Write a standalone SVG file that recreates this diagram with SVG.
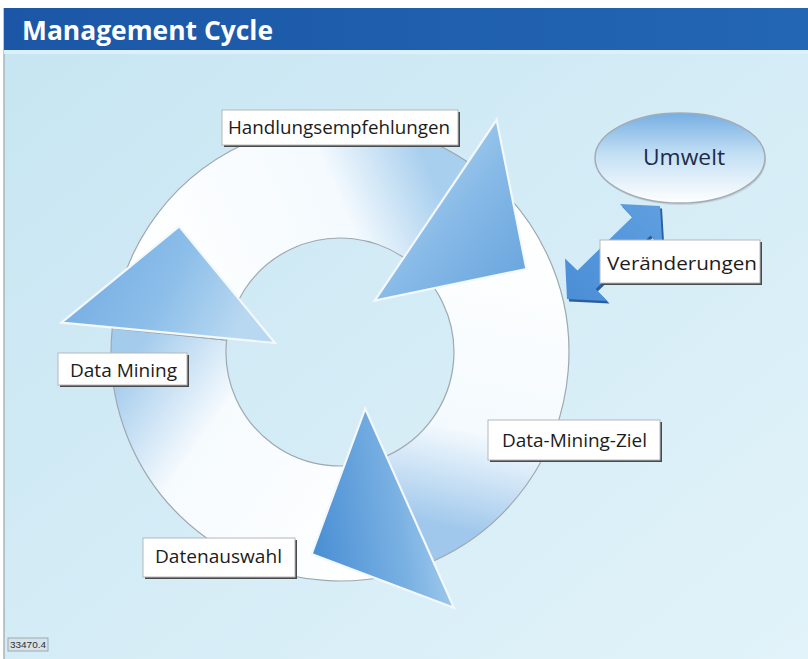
<svg xmlns="http://www.w3.org/2000/svg" width="808" height="659" viewBox="0 0 808 659">
<defs>
  <linearGradient id="bg" x1="0" y1="0" x2="1" y2="1">
    <stop offset="0" stop-color="#c6e5f2"/>
    <stop offset="1" stop-color="#e2f3fa"/>
  </linearGradient>
  <linearGradient id="hdr" x1="0" y1="0" x2="1" y2="0">
    <stop offset="0" stop-color="#1b57a6"/>
    <stop offset="1" stop-color="#2366b4"/>
  </linearGradient>
  <linearGradient id="bandL" gradientUnits="userSpaceOnUse" x1="420" y1="520" x2="150" y2="330">
    <stop offset="0" stop-color="#ffffff"/>
    <stop offset="0.68" stop-color="#f6fbfe"/>
    <stop offset="1" stop-color="#a3cbec"/>
  </linearGradient>
  <linearGradient id="bandT" gradientUnits="userSpaceOnUse" x1="160" y1="330" x2="445" y2="205">
    <stop offset="0" stop-color="#ffffff"/>
    <stop offset="0.7" stop-color="#f4fafe"/>
    <stop offset="1" stop-color="#a8cfee"/>
  </linearGradient>
  <linearGradient id="bandR" gradientUnits="userSpaceOnUse" x1="480" y1="220" x2="415" y2="520">
    <stop offset="0" stop-color="#ffffff"/>
    <stop offset="0.68" stop-color="#f4fafe"/>
    <stop offset="1" stop-color="#a0c8ec"/>
  </linearGradient>
  <linearGradient id="headTR" x1="0" y1="0" x2="1" y2="1">
    <stop offset="0" stop-color="#c0def4"/>
    <stop offset="0.55" stop-color="#86b9e7"/>
    <stop offset="1" stop-color="#64a2dc"/>
  </linearGradient>
  <linearGradient id="headB" x1="0" y1="0.6" x2="1" y2="0.4">
    <stop offset="0" stop-color="#4a8fd4"/>
    <stop offset="0.6" stop-color="#7ab1e3"/>
    <stop offset="1" stop-color="#aad0ef"/>
  </linearGradient>
  <linearGradient id="headL" x1="0" y1="0" x2="1" y2="0.3">
    <stop offset="0" stop-color="#6ea8e0"/>
    <stop offset="0.6" stop-color="#8cbee9"/>
    <stop offset="1" stop-color="#b8d8f1"/>
  </linearGradient>
  <linearGradient id="ell" x1="0" y1="0" x2="0" y2="1">
    <stop offset="0" stop-color="#76aee2"/>
    <stop offset="0.45" stop-color="#c2dff4"/>
    <stop offset="1" stop-color="#ffffff"/>
  </linearGradient>
  <linearGradient id="dbl" x1="0" y1="1" x2="1" y2="0">
    <stop offset="0" stop-color="#4a8ed6"/>
    <stop offset="1" stop-color="#5f9fe0"/>
  </linearGradient>
</defs>
<style>
  .band { stroke: #9ea8b0; stroke-width: 1.2; }
  .head { stroke: #f3f8fc; stroke-width: 2.2; stroke-linejoin: miter; }
  .box { fill: #ffffff; stroke: #b4b8bc; stroke-width: 1; }
  .shadow { fill: #4a4a4a; }
  .lbl { font-family: "Open Sans", "Noto Sans", "Liberation Sans", sans-serif; font-size: 19px; fill: #1c1c1c; }
</style>

<!-- background -->
<rect x="0" y="0" width="808" height="659" fill="#ffffff"/>
<rect x="4" y="8" width="804" height="651" fill="url(#bg)"/>
<line x1="4" y1="8" x2="4" y2="659" stroke="#a9b4ba" stroke-width="1.5"/>

<!-- header -->
<g id="header">
  <rect x="4" y="8" width="804" height="42" fill="url(#hdr)"/>
  <rect x="4" y="50" width="804" height="4" fill="#dcf0f9"/>
  <text x="22" y="40" font-family="'Open Sans', 'Liberation Sans', sans-serif" font-weight="700" font-size="26" fill="#ffffff" textLength="251" lengthAdjust="spacingAndGlyphs">Management Cycle</text>
</g>

<!-- cycle ring segments -->
<g id="cycle">
  <path id="segL" class="band" fill="url(#bandL)" d="M433.1,561.2 A229,229 0 0 1 112.3,328.1 L226.6,340.1 A114,114 0 0 0 386.4,456.1 Z"/>
  <path id="segT" class="band" fill="url(#bandT)" d="M112.3,328.1 A229,229 0 0 1 468.1,162.2 L403.7,257.5 A114,114 0 0 0 226.6,340.1 Z"/>
  <path id="segR" class="band" fill="url(#bandR)" d="M468.1,162.2 A229,229 0 0 1 433.1,561.2 L386.4,456.1 A114,114 0 0 0 403.7,257.5 Z"/>
  <polygon id="headTR" class="head" fill="url(#headTR)" points="496.6,119.9 526.4,269 374.7,300.6"/>
  <polygon id="headB" class="head" fill="url(#headB)" points="453.9,607.8 311.6,554 365.2,408.6"/>
  <polygon id="headL" class="head" fill="url(#headL)" points="61.5,322.7 179.2,226.4 275,343"/>
</g>

<!-- double arrow between cycle and Umwelt -->
<g id="connectors">
  <polygon fill="#2c5e9e" transform="translate(2,2.5)" points="660,206 662.5,247.5 650.5,235.5 595.7,289.1 607.5,301 567,299 565,258.5 577.5,270.5 632.3,216.9 620,204"/>
  <polygon fill="url(#dbl)" points="660,206 662.5,247.5 650.5,235.5 595.7,289.1 607.5,301 567,299 565,258.5 577.5,270.5 632.3,216.9 620,204"/>
</g>

<!-- Umwelt -->
<g id="umwelt">
  <ellipse cx="681" cy="160" rx="85" ry="45" fill="#b9c3ca" opacity="0.6"/>
  <ellipse cx="680" cy="158" rx="85" ry="45" fill="url(#ell)" stroke="#a3acb4" stroke-width="1.5"/>
  <text x="684" y="165" text-anchor="middle" font-family="'Open Sans', 'Noto Sans', sans-serif" font-size="22" fill="#1f2b48" textLength="82" lengthAdjust="spacingAndGlyphs">Umwelt</text>
</g>

<!-- labels -->
<g id="lbl-handlung">
  <rect class="shadow" x="224" y="112" width="236" height="35"/>
  <rect class="box" x="222" y="110" width="236" height="35"/>
  <text class="lbl" x="228" y="134" textLength="222" lengthAdjust="spacingAndGlyphs">Handlungsempfehlungen</text>
</g>
<g id="lbl-datamining">
  <rect class="shadow" x="60" y="355" width="129" height="32"/>
  <rect class="box" x="58" y="353" width="129" height="32"/>
  <text class="lbl" x="70" y="377" textLength="107" lengthAdjust="spacingAndGlyphs">Data Mining</text>
</g>
<g id="lbl-datenauswahl">
  <rect class="shadow" x="145" y="540" width="152" height="39"/>
  <rect class="box" x="143" y="538" width="152" height="39"/>
  <text class="lbl" x="155" y="563" textLength="127" lengthAdjust="spacingAndGlyphs">Datenauswahl</text>
</g>
<g id="lbl-ziel">
  <rect class="shadow" x="490" y="422" width="172" height="40"/>
  <rect class="box" x="488" y="420" width="172" height="40"/>
  <text class="lbl" x="502" y="447" textLength="145" lengthAdjust="spacingAndGlyphs">Data-Mining-Ziel</text>
</g>
<g id="lbl-veraenderungen">
  <rect class="shadow" x="602" y="242" width="160" height="43"/>
  <rect class="box" x="600" y="240" width="160" height="43"/>
  <text class="lbl" x="607" y="270" textLength="150" lengthAdjust="spacingAndGlyphs">Veränderungen</text>
</g>

<!-- figure number -->
<g id="fignum">
  <rect x="8" y="638" width="40" height="13" fill="#d6e4ea" stroke="#8e9aa2" stroke-width="0.8"/>
  <text x="10" y="648" font-family="'Liberation Sans', sans-serif" font-size="9" fill="#2a2f35" textLength="36" lengthAdjust="spacingAndGlyphs">33470.4</text>
</g>
</svg>
